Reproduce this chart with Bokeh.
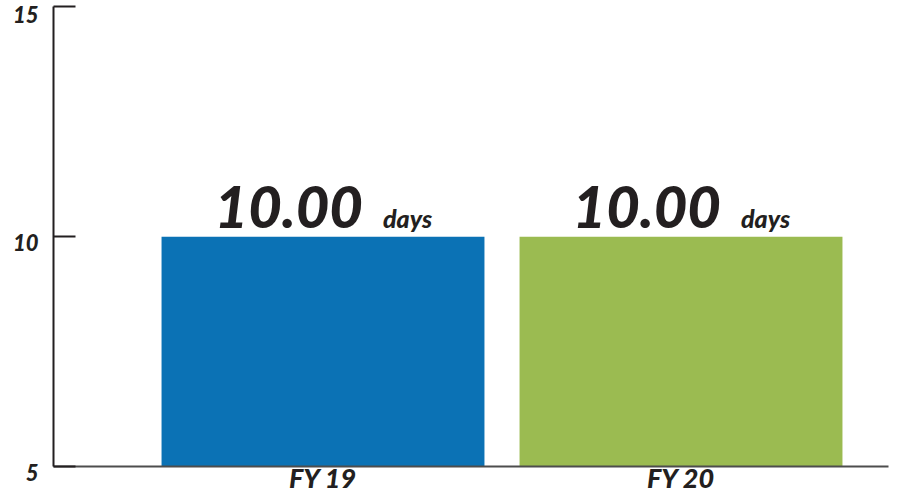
from bokeh.plotting import figure
from bokeh.models import Range1d, FixedTicker, ColumnDataSource
from bokeh.core.properties import value
from bokeh.embed import file_html
from bokeh.resources import INLINE

categories = ["FY 19", "FY 20"]
values = [10.0, 10.0]
value_labels = ["10.00", "10.00"]
unit_labels = ["days", "days"]
y_ticks = [5, 10, 15]
bar_colors = ["#0B72B5", "#9BBB51"]

x_pos = [1, 2]
src = ColumnDataSource(dict(x=x_pos, top=values, label=value_labels, unit=unit_labels,
                            color=bar_colors, base=[min(y_ticks)] * len(values)))

TEXT = "#231F20"
FONT_NAME = "Lato Black, Open Sans"
FONT = value(FONT_NAME)
STYLE = "italic"

p = figure(width=900, height=497, output_backend="svg", toolbar_location=None,
           x_range=Range1d(0.2472, 2.5796), y_range=Range1d(5, 15.01),
           min_border_left=53, min_border_right=12, min_border_top=6, min_border_bottom=31)
p.outline_line_color = None
p.grid.grid_line_color = None
p.background_fill_color = "white"

p.vbar(x="x", top="top", bottom="base", width=0.902, color="color", line_color=None, source=src)

p.text(x="x", y="top", text="label", source=src, text_align="right", text_baseline="alphabetic",
       x_offset=40, y_offset=-30, text_font=FONT, text_font_style=STYLE,
       text_font_size="58px", text_color=TEXT)
p.text(x="x", y="top", text="unit", source=src, text_align="left", text_baseline="alphabetic",
       x_offset=60, y_offset=-19, text_font=FONT, text_font_style=STYLE,
       text_font_size="25px", text_color=TEXT)

# y axis: line, inward ticks, labels sitting just below their ticks
yax = p.yaxis[0]
yax.ticker = FixedTicker(ticks=y_ticks)
yax.axis_line_color = TEXT
yax.axis_line_width = 2
yax.major_tick_in = 22
yax.major_tick_out = 0
yax.major_tick_line_color = TEXT
yax.major_tick_line_width = 2
yax.minor_tick_line_color = None
yax.major_label_overrides = {t: (str(t) if t == max(y_ticks) else "\n" + str(t)) for t in y_ticks}
yax.major_label_standoff = 15
yax.major_label_text_font = FONT_NAME
yax.major_label_text_font_style = STYLE
yax.major_label_text_font_size = "22px"
yax.major_label_text_line_height = 0.45
yax.major_label_text_color = TEXT

# x axis: baseline with category labels
xax = p.xaxis[0]
xax.ticker = FixedTicker(ticks=x_pos)
xax.major_label_overrides = {xv: c for xv, c in zip(x_pos, categories)}
xax.axis_line_color = "#4D4D4D"
xax.axis_line_width = 2
xax.major_tick_line_color = None
xax.major_tick_in = 0
xax.major_tick_out = 0
xax.minor_tick_line_color = None
xax.major_label_standoff = -6
xax.major_label_text_font = FONT_NAME
xax.major_label_text_font_style = STYLE
xax.major_label_text_font_size = "27px"
xax.major_label_text_color = TEXT

open("out.html", "w").write(file_html(p, INLINE))
